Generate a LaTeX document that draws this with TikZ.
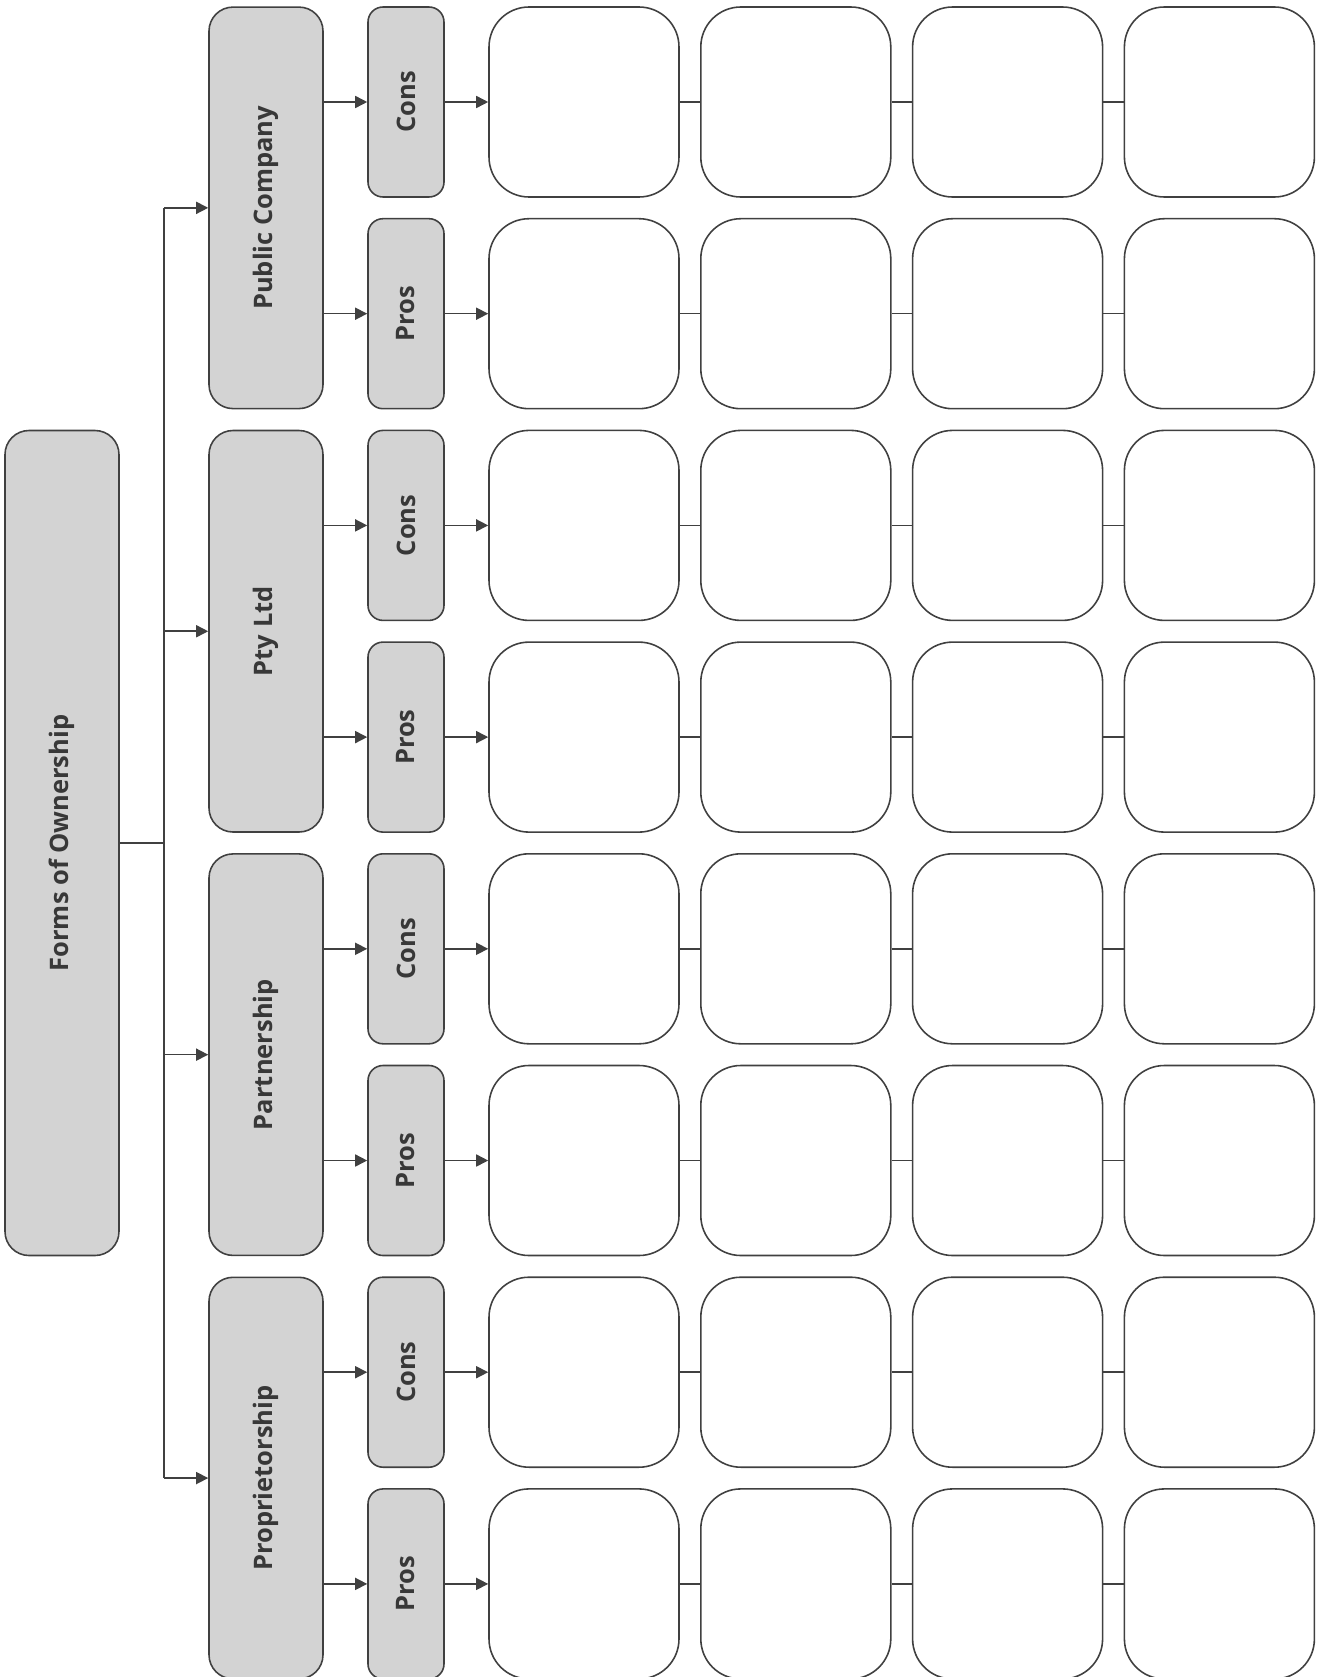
\documentclass[tikz,border=0pt]{standalone}
\usepackage{fontspec}
\setmainfont{Open Sans}
\usetikzlibrary{arrows.meta}
\definecolor{boxgray}{HTML}{D3D3D3}
\definecolor{edgegray}{HTML}{404040}
\definecolor{textgray}{HTML}{383838}

\begin{document}
\begin{tikzpicture}[font=\fontsize{14.5}{18}\selectfont\bfseries, every node/.style={align=center, text=textgray},
  bigbox/.style={rectangle, draw=edgegray, line width=0.9pt, fill=boxgray, rounded corners=0.48cm, inner sep=0pt, rotate=90, minimum height=2.28cm},
  sidebox/.style={rectangle, draw=edgegray, line width=0.9pt, fill=boxgray, rounded corners=0.3cm, inner sep=0pt, rotate=90, minimum width=3.8cm, minimum height=1.52cm},
  blankbox/.style={rectangle, draw=edgegray, line width=0.9pt, fill=white, rounded corners=0.8cm, minimum width=3.8cm, minimum height=3.8cm},
  link/.style={edgegray, line width=0.9pt},
  arrow/.style={-{Triangle[length=0.24cm, width=0.24cm]}, edgegray, line width=0.9pt}]
  \useasboundingbox (0,0) rectangle (26.38,-33.54);

  % --- Root ---
  \node[bigbox, minimum width=16.5cm] (Root) at (1.24, -16.86) {Forms of Ownership};

  % --- Forms (second column) ---
  \node[bigbox, minimum width=8.03cm] (Pub)  at (5.32, -4.157)  {Public Company};
  \node[bigbox, minimum width=8.03cm] (Pty)  at (5.32, -12.625) {Pty Ltd};
  \node[bigbox, minimum width=8.03cm] (Part) at (5.32, -21.093) {Partnership};
  \node[bigbox, minimum width=8.03cm] (Prop) at (5.32, -29.561) {Proprietorship};

  % --- Bus from root to the forms ---
  \coordinate (BusTop) at (3.28, -4.157);
  \coordinate (BusBot) at (3.28, -29.561);
  \draw[link] (Root.south) -- (Root.south -| BusTop);
  \draw[link] (BusTop) -- (BusBot);
  \draw[arrow] (BusTop) -- (Pub);
  \draw[arrow] (Pty -| BusTop) -- (Pty);
  \draw[arrow] (Part -| BusTop) -- (Part);
  \draw[arrow] (BusBot) -- (Prop);

  % --- Cons / Pros ---
  \node[sidebox] (PubCons)  at (8.12, -2.04)   {Cons};
  \node[sidebox] (PubPros)  at (8.12, -6.274)  {Pros};
  \node[sidebox] (PtyCons)  at (8.12, -10.508) {Cons};
  \node[sidebox] (PtyPros)  at (8.12, -14.742) {Pros};
  \node[sidebox] (PartCons) at (8.12, -18.976) {Cons};
  \node[sidebox] (PartPros) at (8.12, -23.21)  {Pros};
  \node[sidebox] (PropCons) at (8.12, -27.444) {Cons};
  \node[sidebox] (PropPros) at (8.12, -31.678) {Pros};
  \draw[arrow] (Pub.south |- PubCons) -- (PubCons);
  \draw[arrow] (Pub.south |- PubPros) -- (PubPros);
  \draw[arrow] (Pty.south |- PtyCons) -- (PtyCons);
  \draw[arrow] (Pty.south |- PtyPros) -- (PtyPros);
  \draw[arrow] (Part.south |- PartCons) -- (PartCons);
  \draw[arrow] (Part.south |- PartPros) -- (PartPros);
  \draw[arrow] (Prop.south |- PropCons) -- (PropCons);
  \draw[arrow] (Prop.south |- PropPros) -- (PropPros);

  % --- Blank grid, four per row ---
  \foreach \row/\y in {PubCons/2.04, PubPros/6.274, PtyCons/10.508, PtyPros/14.742,
                       PartCons/18.976, PartPros/23.21, PropCons/27.444, PropPros/31.678} {
    \foreach \i/\x in {1/11.68, 2/15.916, 3/20.152, 4/24.388}
      \node[blankbox] (\row-\i) at (\x, -\y) {};
    \draw[arrow] (\row) -- (\row-1);
    \draw[link] (\row-1) -- (\row-2);
    \draw[link] (\row-2) -- (\row-3);
    \draw[link] (\row-3) -- (\row-4);
  }
\end{tikzpicture}
\end{document}
